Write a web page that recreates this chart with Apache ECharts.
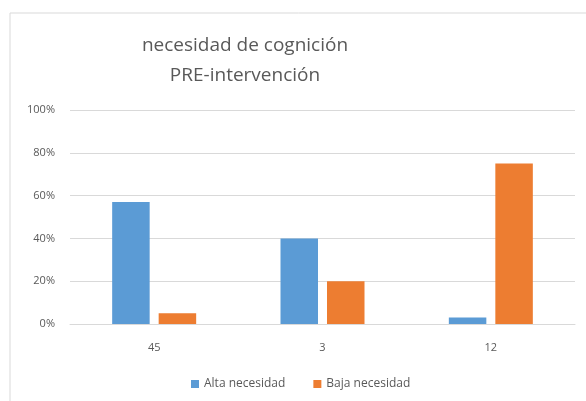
<!DOCTYPE html>
<html>
<head>
<meta charset="utf-8">
<script src="https://cdn.jsdelivr.net/npm/echarts@6/dist/echarts.min.js"></script>
<style>
  html, body { margin: 0; padding: 0; background: #fff; }
  #chart { width: 586px; height: 401px; }
</style>
</head>
<body>
<div id="chart"></div>
<script>
// datos
var categorias = ['45', '3', '12']
var altaNecesidad = [0.57, 0.40, 0.03]
var bajaNecesidad = [0.05, 0.20, 0.75]
var ticksY = [0, 0.2, 0.4, 0.6, 0.8, 1]

var chart = echarts.init(document.getElementById('chart'))
chart.setOption({
  backgroundColor: '#fff',
  animation: false,
  textStyle: { fontFamily: '"Open Sans", "Liberation Sans", sans-serif' },
  graphic: [
    {
      type: 'rect',
      shape: { x: 10, y: 13, width: 600, height: 420 },
      style: { fill: 'none', stroke: '#d9d9d9', lineWidth: 1 }
    }
  ],
  title: {
    text: 'necesidad de cognición\nPRE-intervención',
    left: 240,
    textAlign: 'center',
    top: 26,
    textStyle: {
      color: '#595959',
      fontSize: 19,
      fontWeight: 'normal',
      lineHeight: 30,
      fontFamily: '"Open Sans", "Liberation Sans", sans-serif'
    }
  },
  legend: {
    data: ['Alta necesidad', 'Baja necesidad'],
    top: 373,
    left: 186,
    itemWidth: 8,
    itemHeight: 8,
    itemGap: 28,
    icon: 'rect',
    textStyle: { color: '#595959', fontSize: 12 }
  },
  grid: { left: 70, right: 11, top: 110, bottom: 77 },
  xAxis: {
    type: 'category',
    data: categorias,
    axisLine: { lineStyle: { color: '#d9d9d9' } },
    axisTick: { show: false },
    axisLabel: { color: '#595959', fontSize: 11, margin: 18 }
  },
  yAxis: {
    type: 'value',
    min: ticksY[0],
    max: ticksY[ticksY.length - 1],
    interval: 0.2,
    axisLine: { show: false },
    axisTick: { show: false },
    splitLine: { lineStyle: { color: '#d9d9d9' } },
    axisLabel: {
      color: '#595959',
      fontSize: 11,
      margin: 15,
      formatter: function (v) {
        return Math.round(v * 100) + '%'
      }
    }
  },
  series: [
    {
      name: 'Alta necesidad',
      type: 'bar',
      data: altaNecesidad,
      barWidth: 37.5,
      barGap: '24%',
      itemStyle: { color: '#5b9bd5' }
    },
    {
      name: 'Baja necesidad',
      type: 'bar',
      data: bajaNecesidad,
      barWidth: 37.5,
      barGap: '24%',
      itemStyle: { color: '#ed7d31' }
    }
  ]
})
</script>
</body>
</html>
